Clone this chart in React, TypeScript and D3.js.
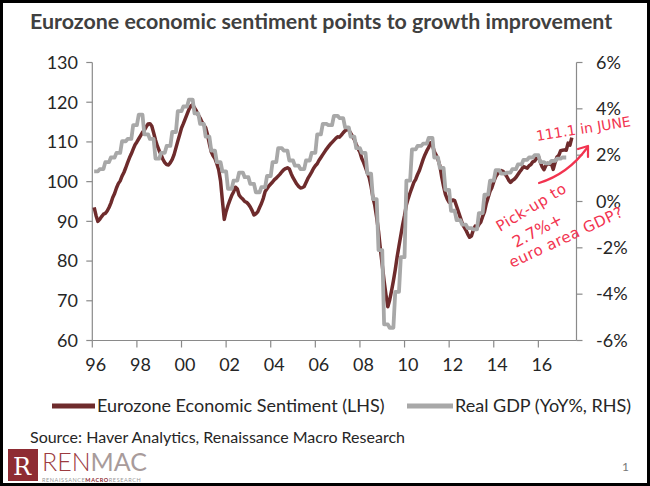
import React from "react";
import * as d3 from "d3";

// Eurozone Economic Sentiment (monthly, Jan 1996 – Jun 2017), LHS
const esiStartYear = 1996;
const esiMonthly: number[] = [
  93.5, 91.5, 90.0, 90.5, 91.2, 91.8, 92.0, 92.6, 93.5, 94.6, 96.0, 97.0,
  98.4, 99.5, 100.2, 101.4, 102.3, 103.5, 104.8, 106.0, 107.0, 108.2, 109.3, 110.0,
  110.8, 111.6, 112.4, 113.0, 113.8, 114.5, 114.6, 114.0, 112.3, 110.5, 109.0, 107.8,
  106.8, 105.6, 104.8, 104.3, 104.2, 104.8, 105.6, 106.8, 108.5, 110.2, 111.8, 113.5,
  114.6, 115.8, 117.0, 118.2, 119.0, 119.4, 118.6, 117.8, 116.8, 116.0, 115.0, 114.3,
  113.6, 111.8, 109.5, 107.5, 106.5, 105.8, 104.5, 103.0, 100.2, 95.2, 90.5, 92.5,
  94.0, 95.3, 96.5, 97.4, 98.6, 98.2, 96.6, 96.0, 95.6, 95.0, 94.8, 94.3,
  93.6, 92.7, 91.6, 91.9, 92.4, 93.5, 94.5, 95.8, 97.5, 98.2, 98.9, 99.4,
  99.9, 100.5, 100.9, 101.4, 101.9, 102.5, 103.0, 103.3, 103.5, 103.2, 102.0, 101.0,
  100.2, 99.4, 98.8, 98.4, 98.5, 98.8, 99.8, 100.8, 101.6, 102.4, 103.3, 104.0,
  104.5, 105.4, 106.1, 106.8, 107.5, 108.2, 108.8, 109.4, 109.9, 110.4, 110.9, 111.3,
  111.2, 111.7, 112.3, 112.8, 113.2, 113.0, 112.2, 111.4, 110.6, 109.4, 108.3, 107.4,
  105.8, 104.8, 103.5, 102.2, 101.0, 98.8, 96.0, 94.0, 91.0, 87.5, 83.0, 79.0,
  75.0, 71.5, 68.5, 70.2, 72.5, 75.0, 77.8, 81.0, 83.8, 86.5, 89.2, 91.5,
  94.2, 95.8, 97.2, 98.5, 99.8, 100.6, 101.8, 102.8, 104.2, 105.6, 106.8, 107.8,
  108.6, 109.8, 109.2, 107.6, 106.7, 105.6, 104.0, 101.2, 98.8, 96.8, 95.6, 94.8,
  95.0, 95.4, 95.2, 93.8, 92.4, 91.0, 89.6, 88.6, 87.8, 86.8, 86.0, 86.3,
  87.8, 88.8, 88.4, 89.2, 89.8, 91.2, 92.4, 94.5, 96.0, 97.6, 98.5, 100.0,
  101.2, 101.9, 102.4, 102.8, 102.6, 102.0, 101.3, 100.4, 99.8, 100.3, 100.6, 101.1,
  101.8, 102.5, 103.1, 103.8, 103.6, 103.4, 104.0, 104.3, 105.0, 105.2, 105.9, 106.4,
  105.0, 103.8, 103.0, 104.0, 104.6, 104.4, 104.5, 103.1, 104.8, 106.2, 106.6, 107.8,
  107.9, 108.0, 107.9, 109.7, 109.2, 111.1,
];

// Real GDP YoY % (quarterly, 1996Q1 – 2017Q1), RHS
const gdpStartYear = 1996;
const gdpQuarterly: number[] = [
  1.3, 1.4, 1.7, 1.9,
  2.1, 2.6, 2.7, 3.3,
  3.75, 2.9, 2.7, 1.85,
  2.1, 2.4, 3.0, 3.9,
  4.1, 4.4, 3.8, 3.35,
  2.8, 2.2, 1.7, 1.3,
  0.55, 0.9, 1.25, 1.05,
  0.76, 0.4, 0.62, 1.1,
  1.7, 2.3, 2.2, 1.77,
  1.55, 1.4, 1.77, 2.1,
  2.9, 3.35, 3.3, 3.7,
  3.6, 3.2, 2.8, 2.3,
  2.1, 1.2, 0.1, -2.1,
  -5.3, -5.45, -3.9, -2.4,
  0.9, 2.25, 2.4, 2.5,
  2.75, 1.9, 1.45, 0.5,
  -0.4, -0.8, -1.0, -1.15,
  -1.2, -0.5, 0.3, 0.9,
  1.35, 1.2, 1.25, 1.4,
  1.6, 1.8, 1.9, 2.0,
  1.7, 1.65, 1.75, 1.85,
  1.9,
];

const xTickYears = [1996, 1998, 2000, 2002, 2004, 2006, 2008, 2010, 2012, 2014, 2016];
const xTickLabels = ["96", "98", "00", "02", "04", "06", "08", "10", "12", "14", "16"];
const leftTicks = [60, 70, 80, 90, 100, 110, 120, 130];
const rightTicks = [-6, -4, -2, 0, 2, 4, 6];

const FONT = "Lato, 'Open Sans', sans-serif";
const RED_LINE = "#6e2b2c";
const GRAY_LINE = "#a8a8a8";
const AXIS = "#8a8a8a";
const TEXT = "#262626";
const PEN = "#f2334f";

export default function App() {
  const W = 650;
  const H = 486;
  const x = d3.scaleLinear().domain([1996, 2017.71]).range([92.3, 576.5]);
  const yL = d3.scaleLinear().domain([60, 130]).range([340.5, 62.5]);
  const yR = d3.scaleLinear().domain([-6, 6]).range([340.5, 62.5]);

  const esiPts: [number, number][] = esiMonthly.map((v, i) => [esiStartYear + (i + 1) / 12, v]);
  const gdpPts: [number, number][] = [];
  gdpQuarterly.forEach((v, q) => {
    for (let k = 0; k < 3; k++) gdpPts.push([gdpStartYear + (3 * q + k + 1) / 12, v]);
  });

  const esiLine = d3
    .line<[number, number]>()
    .x((d) => x(d[0]))
    .y((d) => yL(d[1]));
  const gdpLine = d3
    .line<[number, number]>()
    .x((d) => x(d[0]))
    .y((d) => yR(d[1]));

  const x0 = x.range()[0];
  const x1 = x.range()[1];
  const yBottom = yL.range()[0];
  const yTop = yL.range()[1];

  return (
    <svg
      width={W}
      height={H}
      style={{ position: "absolute", left: 0, top: 0, background: "#fff" }}
      fontFamily={FONT}
    >
      <rect x={1.5} y={1.5} width={W - 3} height={H - 3} fill="#fff" stroke="#000" strokeWidth={3} />

      {/* Title */}
      <text x={30} y={29} fontSize={21.4} fontWeight={700} fill="#404040">
        Eurozone economic sentiment points to growth improvement
      </text>

      {/* Left axis */}
      <line x1={x0} x2={x0} y1={yTop} y2={yBottom} stroke={AXIS} strokeWidth={1.2} />
      {leftTicks.map((t) => (
        <g key={"l" + t}>
          <line x1={x0 - 6} x2={x0} y1={yL(t)} y2={yL(t)} stroke={AXIS} strokeWidth={1.2} />
          <text x={78} y={yL(t)} dy="0.35em" textAnchor="end" fontSize={18} fill={TEXT}>
            {t}
          </text>
        </g>
      ))}

      {/* Right axis */}
      <line x1={x1} x2={x1} y1={yTop} y2={yBottom} stroke={AXIS} strokeWidth={1.2} />
      {rightTicks.map((t) => (
        <g key={"r" + t}>
          <line x1={x1} x2={x1 + 6} y1={yR(t)} y2={yR(t)} stroke={AXIS} strokeWidth={1.2} />
          <text x={596} y={yR(t)} dy="0.35em" textAnchor="start" fontSize={18} fill={TEXT}>
            {t + "%"}
          </text>
        </g>
      ))}

      {/* Bottom axis */}
      <line x1={x0} x2={x1} y1={yBottom} y2={yBottom} stroke={AXIS} strokeWidth={1.2} />
      {xTickYears.map((yr, i) => (
        <g key={"x" + yr}>
          <line x1={x(yr)} x2={x(yr)} y1={yBottom} y2={yBottom + 7} stroke={AXIS} strokeWidth={1.2} />
          <text x={x(yr) + 3.5} y={371} textAnchor="middle" fontSize={18} fill={TEXT}>
            {xTickLabels[i]}
          </text>
        </g>
      ))}

      {/* Series */}
      <path d={esiLine(esiPts) || ""} fill="none" stroke={RED_LINE} strokeWidth={3.5} strokeLinejoin="round" />
      <path d={gdpLine(gdpPts) || ""} fill="none" stroke={GRAY_LINE} strokeWidth={3.8} strokeLinejoin="round" />

      {/* Legend */}
      <line x1={52} x2={95} y1={406} y2={406} stroke={RED_LINE} strokeWidth={5} />
      <text x={97} y={412} fontSize={18} fill={TEXT}>
        Eurozone Economic Sentiment (LHS)
      </text>
      <line x1={407} x2={453} y1={406} y2={406} stroke={GRAY_LINE} strokeWidth={5} />
      <text x={455} y={412} fontSize={18} fill={TEXT}>
        Real GDP (YoY%, RHS)
      </text>

      {/* Source */}
      <text x={30} y={443} fontSize={16} fill={TEXT}>
        Source: Haver Analytics, Renaissance Macro Research
      </text>

      {/* Handwritten annotations */}
      <g fill={PEN} fontFamily="'DejaVu Sans', sans-serif" fontSize={14}>
        <text transform="translate(537,141) rotate(-9)">
          111.1 in JUNE
        </text>
        <text transform="translate(500,232) rotate(-31)" fontSize={15} letterSpacing={0.5}>
          Pick-up to
        </text>
        <text transform="translate(516,248) rotate(-28)" fontSize={16}>
          2.7%+
        </text>
        <text transform="translate(512,268) rotate(-25)" fontSize={15} letterSpacing={0.5}>
          euro area GDP?
        </text>
      </g>
      <path d="M539,183 Q568,174 587,148" fill="none" stroke={PEN} strokeWidth={2.2} strokeLinecap="round" />
      <path d="M578,149 L588,146 L588,157" fill="none" stroke={PEN} strokeWidth={2.2} strokeLinecap="round" strokeLinejoin="round" />

      {/* Logo */}
      <rect x={8} y={449} width={30} height={32} fill="#8e2c33" />
      <text x={22} y={475} textAnchor="middle" fontFamily="'DejaVu Serif', serif" fontSize={24} fill="#fff">
        R
      </text>
      <text x={42} y={471} fontSize={25} fontWeight={300}>
        <tspan fill="#9c3b40">REN</tspan>
        <tspan fill="#a89b9b" fontWeight={400}>MAC</tspan>
      </text>
      <text x={42} y={482} fontSize={5.5} letterSpacing={0.6} fill="#9a9a9a">
        RENAISSANCE
        <tspan fill="#8e2c33" fontWeight={700}>MACRO</tspan>
        RESEARCH
      </text>
      <text x={622} y={471} fontSize={12} fill="#777">
        1
      </text>
    </svg>
  );
}
